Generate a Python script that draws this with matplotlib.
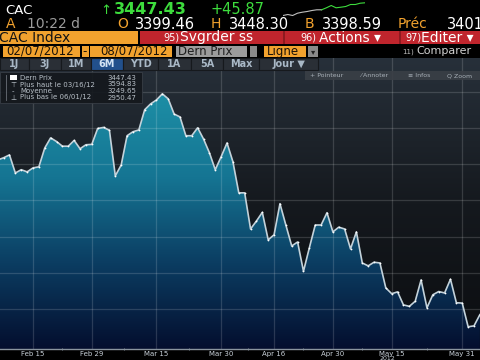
import numpy as np
import matplotlib
matplotlib.use('Agg')
import matplotlib.pyplot as plt
from matplotlib.patches import Rectangle
from matplotlib.colors import LinearSegmentedColormap

# CAC 40 closes, one per trading day from 02/07/2012
close = [3412, 3418, 3426, 3376, 3385, 3379, 3390, 3393, 3445, 3473,
         3463, 3450, 3450, 3466, 3443, 3454, 3455, 3499, 3502, 3494,
         3368, 3398, 3479, 3490, 3495, 3551, 3567, 3578, 3594.83, 3581,
         3539, 3531, 3479, 3479, 3501, 3470, 3432, 3385, 3421, 3459,
         3407, 3321, 3321, 3221, 3243, 3267, 3191, 3205, 3291, 3232,
         3174, 3185, 3104, 3169, 3232, 3232, 3266, 3213, 3226, 3221,
         3166, 3213, 3127, 3119, 3129, 3127, 3058, 3042, 3047, 3011,
         3007, 3021, 3080, 3003, 3039, 3048, 3044, 3082, 3017, 3016,
         2950.47, 2953, 2984]

tick_pos = [6, 16, 27, 38, 47, 57, 67, 79]
tick_labels = ['Feb 15', 'Feb 29', 'Mar 15', 'Mar 30', 'Apr 16', 'Apr 30', 'May 15', 'May 31']
grid_levels = [3000, 3100, 3200, 3300, 3400, 3500, 3600]

legend_labels = ['Dern Prix', 'Plus haut le 03/16/12', 'Moyenne', 'Plus bas le 06/01/12']
legend_values = ['3447.43', '3594.83', '3249.65', '2950.47']
legend_marks = ['', '⊤', '-', '⊥']

quote_fields = [('O', '3399.46'), ('H', '3448.30'), ('B', '3398.59'), ('Préc', '3401')]
buttons = ['1J', '3J', '1M', '6M', 'YTD', '1A', '5A', 'Max', 'Jour ▼']

# intraday sparkline in the header (grey = before, green = today)
spark = [2, 3, 2, 4.3, 5.3, 6, 7, 7.7, 7.7, 9.7, 12, 9.7, 10.3, 11, 13, 13, 14.3, 14.7]
spark_split = 8

W, H = 480, 360
ORANGE = '#f2a22e'
GREEN = '#3ddc3d'

fig = plt.figure(figsize=(4.8, 3.6), dpi=100)
fig.patch.set_facecolor('black')


def fx(px):
    return px / W


def fy(py):
    return 1 - py / H


def box(x0, y0, x1, y1, color, ec='none', lw=0, alpha=1.0, z=5):
    fig.add_artist(Rectangle((fx(x0), fy(y1)), (x1 - x0) / W, (y1 - y0) / H,
                             transform=fig.transFigure, facecolor=color,
                             edgecolor=ec, lw=lw, alpha=alpha, zorder=z))


def txt(x, y, s, color, size, ha='left', **kw):
    fig.text(fx(x), fy(y), s, color=color, fontsize=size, ha=ha, va='center',
             zorder=7, **kw)


# ---- chart ----
ax = fig.add_axes([0, fy(349), 1, (349 - 58) / H])
x = np.arange(len(close))
xmin, xmax = 0.39, 82.02
ymin, ymax = 2889, 3694

bg_cmap = LinearSegmentedColormap.from_list('bg', ['#0b0d10', '#15191e', '#27303a'])
ax.imshow(np.linspace(0, 1, 256).reshape(-1, 1), extent=[xmin, xmax, ymin, ymax],
          aspect='auto', cmap=bg_cmap, origin='lower', zorder=0)

fill_cmap = LinearSegmentedColormap.from_list('fill', ['#040e2e', '#0b3d62', '#157593', '#1d8fa6'])
im = ax.imshow(np.linspace(0, 1, 256).reshape(-1, 1), extent=[xmin, xmax, ymin, 3600],
               aspect='auto', cmap=fill_cmap, origin='lower', zorder=1)
poly = ax.fill_between(x, close, ymin, facecolor='none', edgecolor='none')
im.set_clip_path(poly.get_paths()[0], transform=ax.transData)

for t in tick_pos:
    ax.axvline(t, color='white', alpha=0.15, lw=0.9, zorder=2)
for g in grid_levels:
    ax.axhline(g, color='white', alpha=0.15, lw=0.9, zorder=2)

ax.plot(x, close, color='#c3d2da', lw=1.2, zorder=4,
        marker='o', ms=1.3, mfc='white', mec='none')

ax.set_xlim(xmin, xmax)
ax.set_ylim(ymin, ymax)
for s in ['top', 'left', 'right']:
    ax.spines[s].set_visible(False)
ax.spines['bottom'].set_color('#8a949e')
ax.spines['bottom'].set_linewidth(1)
ax.set_xticks(tick_pos, tick_labels)
mids = [(a + b) / 2 for a, b in zip(tick_pos[:-1], tick_pos[1:])]
ax.set_xticks(mids, minor=True)
ax.tick_params(axis='x', which='major', length=0, pad=1.5, labelsize=5, labelcolor='#c8d0d8')
ax.tick_params(axis='x', which='minor', length=2, color='#8a949e', direction='inout')
ax.tick_params(axis='y', left=False, labelleft=False)
txt(387, 358.5, '2012', '#c8d0d8', 4.5, ha='center')

# ---- header row 1 ----
txt(5, 10, 'CAC', 'white', 9.5)
txt(100, 10, '↑', GREEN, 9.5)
txt(114, 10, '3447.43', GREEN, 11.5, fontweight='bold')
txt(210, 10, '+45.87', GREEN, 10.5)
sax = fig.add_axes([fx(283), fy(17.5), (365 - 283) / W, 16 / H])
sax.plot(range(spark_split + 1), spark[:spark_split + 1], color='#bfbfbf', lw=0.8)
sax.plot(range(spark_split, len(spark)), spark[spark_split:], color=GREEN, lw=0.8)
sax.set_xlim(0, len(spark) - 1)
sax.set_ylim(0, 16)
sax.axis('off')

# ---- header row 2 ----
txt(6, 24.5, 'A', ORANGE, 10)
txt(27, 24.5, '10:22 d', '#9c9c9c', 10)
for (lab, val), xl, xv in zip(quote_fields, [117, 211, 305, 398], [135, 229, 322, 447]):
    txt(xl, 24.5, lab, ORANGE, 10)
    txt(xv, 24.5, val, 'white', 10.5)

# ---- header row 3 ----
box(0, 31, 138, 44, ORANGE)
txt(-1, 37.5, 'CAC Index', '#141414', 10)
box(140, 31, 480, 44, '#c0252d')
box(283, 31, 285, 44, '#8e1a20', z=6)
box(399, 31, 401, 44, '#8e1a20', z=6)
txt(163, 37.5, '95)', 'white', 7)
txt(180, 37.5, 'Svgrder ss', 'white', 10)
txt(300, 37.5, '96)', 'white', 7)
txt(319, 37.5, 'Actions ▾', 'white', 10)
txt(405, 37.5, '97)', 'white', 7)
txt(421, 37.5, 'Editer ▾', 'white', 10)

# ---- header row 4 ----
box(3, 45.5, 80, 57, ORANGE)
txt(6, 51.5, '02/07/2012', '#1a1208', 8.5)
box(81.5, 45.5, 88.5, 57, ORANGE)
txt(85, 51.5, '-', '#1a1208', 8.5, ha='center')
box(90, 45.5, 172, 57, ORANGE)
txt(100, 51.5, '08/07/2012', '#1a1208', 8.5)
box(176, 45.5, 247, 57, '#9c9c9c')
txt(178, 51.5, 'Dern Prix', '#1e1e1e', 8.5)
box(250, 45.5, 257, 57, '#8a8a8a')
box(264, 45.5, 306, 57, ORANGE)
txt(267, 51.5, 'Ligne', '#1a1208', 8.5)
box(308, 45.5, 318, 57, '#8a8a8a')
txt(313, 51.5, '▾', '#222222', 6, ha='center')
txt(402, 51.5, '11)', '#bbbbbb', 5)
txt(416, 51.5, 'Comparer', '#d0d0d0', 8)

# ---- period buttons ----
edges = [0, 29, 61, 91, 123, 158, 191, 223, 259, 318]
for lab, a, b in zip(buttons, edges[:-1], edges[1:]):
    face = '#22508c' if lab == '6M' else '#2a2f36'
    box(a, 58, b, 70, face, ec='#16191d', lw=0.8)
    color = '#d4e4f4' if lab == '6M' else '#a9b8c6'
    txt((a + b) / 2, 64, lab, color, 7, ha='center', fontweight='bold')

# ---- chart toolbar ----
box(305, 71, 480, 80, '#3a3f46', alpha=0.9)
for s, xs in zip(['+ Pointeur', '⁄ Annoter', '≡ Infos', 'Q Zoom'], [310, 360, 408, 447]):
    txt(xs, 75.5, s, '#a8b0b8', 4.5)

# ---- legend box ----
box(0, 72, 142, 103, '#14181d', ec='#3a4048', lw=0.6, alpha=0.92)
fig.add_artist(plt.Line2D([fx(6), fx(6)], [fy(75), fy(100)], transform=fig.transFigure,
                          color='#6a7078', lw=0.6, zorder=7))
rows_y = [77.5, 84.5, 91, 97.5]
for lab, val, mk, yy in zip(legend_labels, legend_values, legend_marks, rows_y):
    if mk:
        txt(13, yy, mk, '#c0c8d0', 5, ha='center')
    else:
        box(10, yy - 2.5, 17, yy + 2.5, 'white', z=7)
    txt(20, yy, lab, '#b8c0c8', 5)
    txt(136, yy, val, '#b8c0c8', 5, ha='right')

fig.savefig('out.png', dpi=100, facecolor=fig.get_facecolor())
